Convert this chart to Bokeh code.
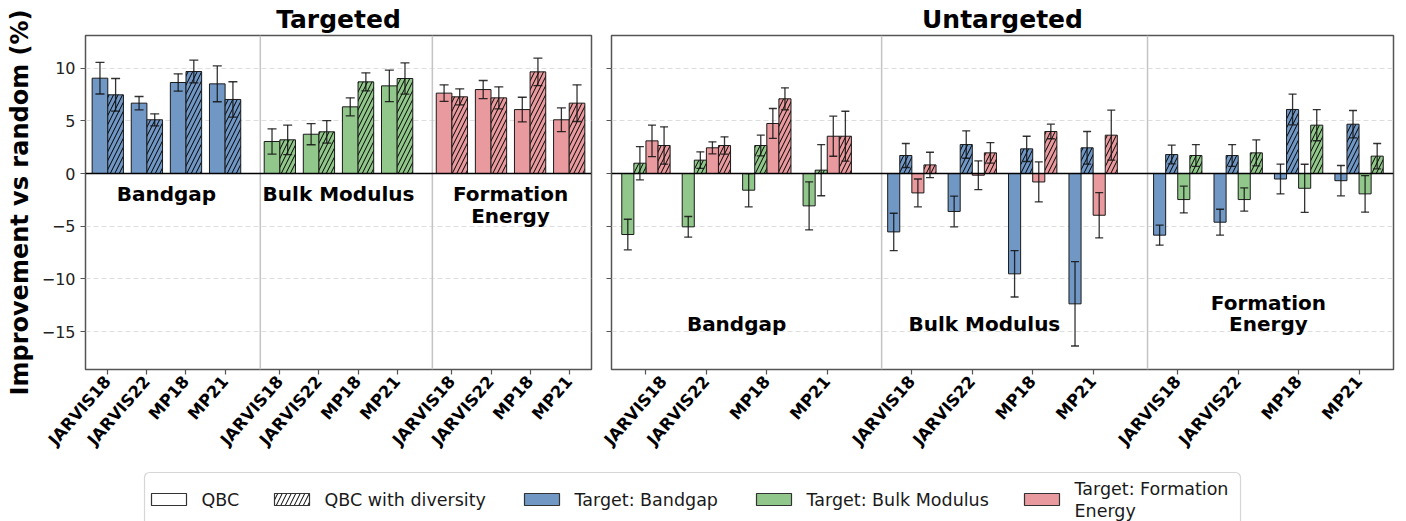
import math

from bokeh.core.properties import value
from bokeh.embed import file_html
from bokeh.layouts import column, row
from bokeh.models import ColumnDataSource, FixedTicker, Range1d, Span
from bokeh.plotting import figure
from bokeh.resources import INLINE

FONT = "DejaVu Sans"

datasets = ["JARVIS18", "JARVIS22", "MP18", "MP21"]
properties = ["Bandgap", "Bulk Modulus", "Formation Energy"]
group_titles = ["Bandgap", "Bulk Modulus", "Formation\nEnergy"]
colors = {"Bandgap": "#7197C5", "Bulk Modulus": "#92C78C", "Formation Energy": "#E99A9E"}

# Targeted: improvement on the property that was the acquisition target
tgt_bandgap_qbc = [9.05, 6.68, 8.64, 8.51]
tgt_bandgap_qbc_err = [1.50, 0.63, 0.82, 1.70]
tgt_bandgap_div = [7.47, 5.10, 9.68, 7.03]
tgt_bandgap_div_err = [1.55, 0.57, 1.08, 1.68]
tgt_bulk_qbc = [3.04, 3.73, 6.33, 8.32]
tgt_bulk_qbc_err = [1.20, 1.00, 0.85, 1.50]
tgt_bulk_div = [3.20, 3.96, 8.70, 9.02]
tgt_bulk_div_err = [1.40, 1.07, 0.86, 1.48]
tgt_form_qbc = [7.63, 7.97, 6.07, 5.10]
tgt_form_qbc_err = [0.79, 0.86, 1.17, 1.13]
tgt_form_div = [7.28, 7.18, 9.65, 6.68]
tgt_form_div_err = [0.76, 1.05, 1.30, 1.74]

# Untargeted: improvement on one property while another one was targeted
unt_bandgap_by_bulk_qbc = [-5.79, -5.06, -1.58, -3.07]
unt_bandgap_by_bulk_qbc_err = [1.45, 0.98, 1.58, 2.28]
unt_bandgap_by_bulk_div = [0.98, 1.27, 2.66, 0.32]
unt_bandgap_by_bulk_div_err = [1.58, 0.79, 0.98, 2.43]
unt_bandgap_by_form_qbc = [3.10, 2.44, 4.75, 3.54]
unt_bandgap_by_form_qbc_err = [1.50, 0.57, 1.42, 1.90]
unt_bandgap_by_form_div = [2.66, 2.66, 7.09, 3.54]
unt_bandgap_by_form_div_err = [1.77, 0.82, 1.04, 2.37]

unt_bulk_by_bandgap_qbc = [-5.54, -3.60, -9.52, -12.37]
unt_bulk_by_bandgap_qbc_err = [1.77, 1.46, 2.20, 4.00]
unt_bulk_by_bandgap_div = [1.71, 2.75, 2.34, 2.44]
unt_bulk_by_bandgap_div_err = [1.14, 1.30, 1.20, 1.55]
unt_bulk_by_form_qbc = [-1.84, -0.16, -0.80, -3.96]
unt_bulk_by_form_qbc_err = [1.32, 1.36, 1.90, 2.15]
unt_bulk_by_form_div = [0.82, 1.96, 3.99, 3.64]
unt_bulk_by_form_div_err = [1.20, 0.98, 0.69, 2.37]

unt_form_by_bandgap_qbc = [-5.85, -4.62, -0.52, -0.68]
unt_form_by_bandgap_qbc_err = [0.95, 1.23, 1.42, 1.44]
unt_form_by_bandgap_div = [1.80, 1.71, 6.08, 4.68]
unt_form_by_bandgap_div_err = [0.89, 1.04, 1.46, 1.30]
unt_form_by_bulk_qbc = [-2.47, -2.47, -1.40, -1.93]
unt_form_by_bulk_qbc_err = [1.27, 1.10, 2.28, 1.74]
unt_form_by_bulk_div = [1.71, 1.96, 4.59, 1.65]
unt_form_by_bulk_div_err = [1.04, 1.23, 1.48, 1.20]

targeted = [
    ("Bandgap", tgt_bandgap_qbc, tgt_bandgap_qbc_err, tgt_bandgap_div, tgt_bandgap_div_err),
    ("Bulk Modulus", tgt_bulk_qbc, tgt_bulk_qbc_err, tgt_bulk_div, tgt_bulk_div_err),
    ("Formation Energy", tgt_form_qbc, tgt_form_qbc_err, tgt_form_div, tgt_form_div_err),
]
untargeted = [
    [("Bulk Modulus", unt_bandgap_by_bulk_qbc, unt_bandgap_by_bulk_qbc_err,
      unt_bandgap_by_bulk_div, unt_bandgap_by_bulk_div_err),
     ("Formation Energy", unt_bandgap_by_form_qbc, unt_bandgap_by_form_qbc_err,
      unt_bandgap_by_form_div, unt_bandgap_by_form_div_err)],
    [("Bandgap", unt_bulk_by_bandgap_qbc, unt_bulk_by_bandgap_qbc_err,
      unt_bulk_by_bandgap_div, unt_bulk_by_bandgap_div_err),
     ("Formation Energy", unt_bulk_by_form_qbc, unt_bulk_by_form_qbc_err,
      unt_bulk_by_form_div, unt_bulk_by_form_div_err)],
    [("Bandgap", unt_form_by_bandgap_qbc, unt_form_by_bandgap_qbc_err,
      unt_form_by_bandgap_div, unt_form_by_bandgap_div_err),
     ("Bulk Modulus", unt_form_by_bulk_qbc, unt_form_by_bulk_qbc_err,
      unt_form_by_bulk_div, unt_form_by_bulk_div_err)],
]

# x layout in tenths: datasets 10 apart, groups 44 apart
STEP, STRIDE = 10, 44
ticks = [g * STRIDE + j * STEP for g in range(3) for j in range(4)]
tick_labels = {t: datasets[i % 4] for i, t in enumerate(ticks)}
group_centers = [g * STRIDE + 1.5 * STEP for g in range(3)]
separators = [g * STRIDE - 5 for g in range(1, 3)]
y_ticks = [-15, -10, -5, 0, 5, 10]

EDGE = "#1a1a1a"
HATCH = dict(hatch_pattern="/", hatch_color="black", hatch_weight=1, hatch_scale=9)


def panel(width, border_left, border_right, title, labelled):
    p = figure(width=width, height=466, output_backend="svg", toolbar_location=None,
               x_range=Range1d(-5.7, 123.7), y_range=Range1d(-18.6, 13.1),
               min_border_left=border_left, min_border_right=border_right,
               min_border_top=0, min_border_bottom=97, title=title)
    p.title.align = "center"
    p.title.text_font = FONT
    p.title.text_font_size = "25px"
    p.title.text_font_style = "bold"
    p.title.text_color = "black"
    p.title.standoff = 4
    p.outline_line_color = "#555555"
    p.outline_line_width = 1.5
    p.background_fill_color = "white"
    p.border_fill_color = "white"

    p.xgrid.grid_line_color = None
    p.ygrid.ticker = FixedTicker(ticks=y_ticks)
    p.ygrid.grid_line_color = "#dedede"
    p.ygrid.grid_line_dash = "5 3"
    p.ygrid.grid_line_width = 1

    p.xaxis.ticker = FixedTicker(ticks=ticks)
    p.xaxis.major_label_overrides = tick_labels
    p.xaxis.major_label_orientation = math.radians(49)
    p.xaxis.major_label_text_font = FONT
    p.xaxis.major_label_text_font_size = "16.5px"
    p.xaxis.major_label_text_font_style = "bold"
    p.xaxis.major_label_text_color = "black"
    p.xaxis.major_label_standoff = 4

    p.yaxis.ticker = FixedTicker(ticks=y_ticks)
    p.yaxis.major_label_text_font = FONT
    p.yaxis.major_label_text_font_size = "16px"
    p.yaxis.major_label_text_color = "#222222"
    p.yaxis.major_label_standoff = 5
    if labelled:
        p.yaxis.axis_label = "Improvement vs random (%)"
        p.yaxis.axis_label_text_font = FONT
        p.yaxis.axis_label_text_font_size = "24px"
        p.yaxis.axis_label_text_font_style = "bold"
        p.yaxis.axis_label_text_color = "black"
        p.yaxis.axis_label_standoff = 5
    else:
        # shared y scale: ticks only, no numbers
        p.yaxis.major_label_overrides = {t: "" for t in y_ticks}
        p.yaxis.major_label_standoff = 0

    for ax in (p.xaxis, p.yaxis):
        ax.axis_line_color = None
        ax.major_tick_line_color = "#555555"
        ax.major_tick_line_width = 1.2
        ax.major_tick_out = 5
        ax.major_tick_in = 0
        ax.minor_tick_line_color = None

    for s in separators:
        p.add_layout(Span(location=s, dimension="height", line_color="#c4c4c4",
                          line_width=1.5, level="underlay"))
    return p


def draw_bars(p, qbc, div, width, cap):
    for rows, extra in ((qbc, {}), (div, HATCH)):
        src = ColumnDataSource(rows)
        p.vbar(x="x", top="top", bottom=0, width=width, source=src,
               fill_color="color", line_color=EDGE, line_width=1, **extra)
    for rows in (qbc, div):
        lo = [t - e for t, e in zip(rows["top"], rows["err"])]
        hi = [t + e for t, e in zip(rows["top"], rows["err"])]
        p.segment(x0=rows["x"], x1=rows["x"], y0=lo, y1=hi,
                  line_color="#111111", line_width=1.3, line_alpha=0.85)
        p.scatter(x=rows["x"] + rows["x"], y=lo + hi, marker="dash", size=cap,
                  line_color="#111111", line_width=1.3, line_alpha=0.85)
    p.add_layout(Span(location=0, dimension="width", line_color="black", line_width=1.5))


def empty_rows():
    return {"x": [], "top": [], "err": [], "color": []}


# ---- Targeted panel ----
left = panel(600, 85, 9, "Targeted", True)
qbc, div = empty_rows(), empty_rows()
for g, (prop, q, qe, d, de) in enumerate(targeted):
    for j in range(4):
        c = g * STRIDE + j * STEP
        for rows, x, v, e in ((qbc, c - 2, q[j], qe[j]), (div, c + 2, d[j], de[j])):
            rows["x"].append(x)
            rows["top"].append(v)
            rows["err"].append(e)
            rows["color"].append(colors[prop])
draw_bars(left, qbc, div, 4, 9)
left.text(x=group_centers, y=[-0.85] * 3, text=group_titles,
          text_font=value(FONT), text_font_size="20px", text_font_style="bold",
          text_align="center", text_baseline="top", text_line_height=0.9,
          text_color="black")

# ---- Untargeted panel ----
right = panel(806, 11, 13, "Untargeted", False)
qbc, div = empty_rows(), empty_rows()
for g, pairs in enumerate(untargeted):
    for k, (prop, q, qe, d, de) in enumerate(pairs):
        for j in range(4):
            c = g * STRIDE + j * STEP
            for rows, x, v, e in ((qbc, c - 3 + 4 * k, q[j], qe[j]),
                                  (div, c - 1 + 4 * k, d[j], de[j])):
                rows["x"].append(x)
                rows["top"].append(v)
                rows["err"].append(e)
                rows["color"].append(colors[prop])
draw_bars(right, qbc, div, 2, 8)
right_label_x = [c + dx for c, dx in zip(group_centers, (0, -3, 0))]
right.text(x=right_label_x, y=[-15.45] * 3, text=group_titles,
           text_font=value(FONT), text_font_size="20px", text_font_style="bold",
           text_align="center", text_baseline="bottom", text_line_height=0.9,
           text_color="black")

# ---- Legend strip ----
leg = figure(width=1406, height=55, output_backend="svg", toolbar_location=None,
             x_range=Range1d(0, 1406), y_range=Range1d(55, 0),
             min_border=0, outline_line_color=None)
leg.axis.visible = False
leg.grid.visible = False
leg.quad(left=[144], right=[1240], top=[6], bottom=[80], fill_color="white",
         line_color="#d6d6d6", line_width=1.2, border_radius=5)

legend_labels = ["QBC", "QBC with diversity", "Target: Bandgap",
                 "Target: Bulk Modulus", "Target: Formation\nEnergy"]
legend_fill = ["white", "white", colors["Bandgap"], colors["Bulk Modulus"],
               colors["Formation Energy"]]
legend_left = [151, 274, 524, 756, 1024]
for i, (lab, fc, lx) in enumerate(zip(legend_labels, legend_fill, legend_left)):
    extra = HATCH if i == 1 else {}
    leg.quad(left=[lx], right=[lx + 35], top=[27], bottom=[39], fill_color=fc,
             line_color="#333333", line_width=1.2, **extra)
    leg.text(x=[lx + 50], y=[33], text=[lab], text_font=value(FONT),
             text_font_size="17.5px", text_align="left", text_baseline="middle",
             text_line_height=1.1, text_color="#1a1a1a")

layout = column(row(left, right, spacing=0), leg, spacing=0)
open("out.html", "w").write(file_html(layout, INLINE))
